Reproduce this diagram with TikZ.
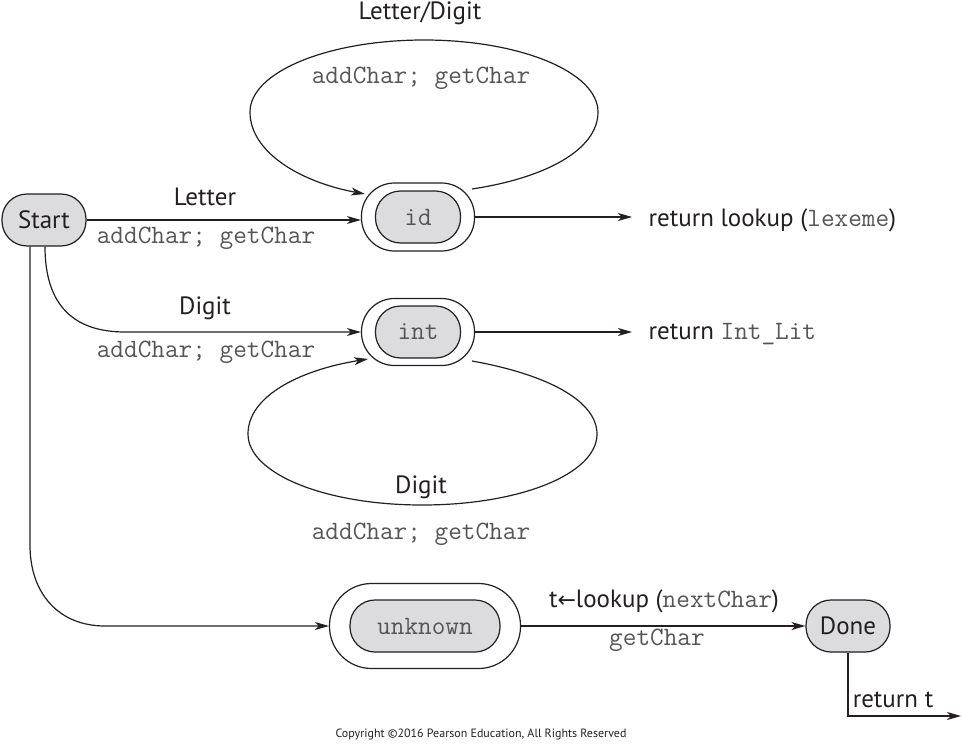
\documentclass[tikz,border=0pt]{standalone}
\usepackage{fontspec}
\setmainfont{PT Sans}
\newfontfamily\arrowfont{DejaVu Sans}
\usetikzlibrary{arrows.meta,calc}
\definecolor{nodegray}{RGB}{220,220,222}
\definecolor{ink}{RGB}{35,31,32}
\definecolor{monoink}{RGB}{85,85,85}
\newcommand{\cd}[1]{{\ttfamily\fontsize{26.5}{30}\selectfont\color{monoink}#1}}
\begin{document}
\begin{tikzpicture}[x=1pt,y=-1pt, line width=1.2pt,
  every node/.style={text=ink, font=\fontsize{25}{29}\selectfont},
  arr/.style={draw=ink, -{Stealth[length=14pt,width=8pt,inset=4pt]}},
  state/.style={draw=ink, fill=nodegray, rounded corners=25pt, minimum width=84pt, minimum height=52pt, inner sep=0pt, font=\fontsize{25}{29}\selectfont},
  ring/.style={draw=ink, fill=white, inner sep=0pt},
  lab/.style={inner sep=0pt}
]
\useasboundingbox (0,0) rectangle (963,749);
% states
\node[ring, minimum width=113pt, minimum height=68pt, rounded corners=33pt] (idO) at (418,217) {};
\node[state, minimum width=85pt] (id) at (418,217) {\cd{id}};
\node[ring, minimum width=113pt, minimum height=67pt, rounded corners=33pt] (intO) at (418,332) {};
\node[state, minimum width=85pt] (int) at (418,332) {\cd{int}};
\node[ring, minimum width=191pt, minimum height=85pt, rounded corners=42pt] (unkO) at (425,626) {};
\node[state, minimum width=150pt] (unk) at (425,626) {\cd{unknown}};
\node[state] (start) at (44,220) {Start};
\node[state] (done) at (848,626) {Done};
% coordinates
\coordinate (c1) at (125,332);
\coordinate (c2) at (30,545);
\coordinate (c3) at (105,626);
\coordinate (e1) at (632,217);
\coordinate (e2) at (632,332);
\coordinate (c4) at (848,716);
\coordinate (e3) at (961,716);
% edges
\draw[arr] (start.east) -- (start.east -| idO.west);
\draw[arr] ([xshift=1pt]start.south) .. controls +(0,60) and +(-50,0) .. (c1) -- (intO.west);
\draw[arr] ([xshift=-14pt]start.south) -- (c2) .. controls +(0,50) and +(-45,0) .. (c3) -- (unkO.west);
\draw[arr] ($(idO.center)+(54,-28)$) .. controls (545,178) and (598,150) .. (598,112)
  .. controls (598,72) and (520,40) .. (424,40)
  .. controls (328,40) and (250,72) .. (250,112)
  .. controls (250,152) and (300,182) .. ($(idO.center)+(-53,-23)$);
\draw[arr] ($(intO.center)+(54,29)$) .. controls (545,374) and (597,400) .. (597,434)
  .. controls (597,474) and (520,505) .. (422,505)
  .. controls (326,505) and (248,474) .. (248,434)
  .. controls (248,396) and (300,370) .. ($(intO.center)+(-50,27)$);
\draw[arr] (idO.east) -- (e1);
\draw[arr] (intO.east) -- (e2);
\draw[arr] (unkO.east) -- (done.west);
\draw[arr] (done.south) -- (c4) -- (e3);
% labels
\node[lab] (l1) at (205,197) {Letter};
\node[lab] (a1) at (206,238) {\cd{addChar; getChar}};
\node[lab] (l2) at (205,308) {Digit};
\node[lab] (a2) at (206,352) {\cd{addChar; getChar}};
\node[lab] (l3) at (420,13) {Letter/Digit};
\node[lab] (a3) at (421,78) {\cd{addChar; getChar}};
\node[lab] (l4) at (421,487) {Digit};
\node[lab] (a4) at (421,534) {\cd{addChar; getChar}};
\node[lab, anchor=base west] (r1) at (648,226) {return lookup (\cd{lexeme})};
\node[lab, anchor=base west] (r2) at (648,339) {return \cd{Int\_Lit}};
\node[lab] (l5) at (664,601) {t{\arrowfont\fontsize{22}{26}\selectfont ←}lookup (\cd{nextChar})};
\node[lab] (a5) at (657,640) {\cd{getChar}};
\node[lab] (r3) at (893,700) {return t};
\node[lab, font=\fontsize{12}{14}\selectfont] (cp) at (481,734) {Copyright ©2016 Pearson Education, All Rights Reserved};
\end{tikzpicture}
\end{document}
